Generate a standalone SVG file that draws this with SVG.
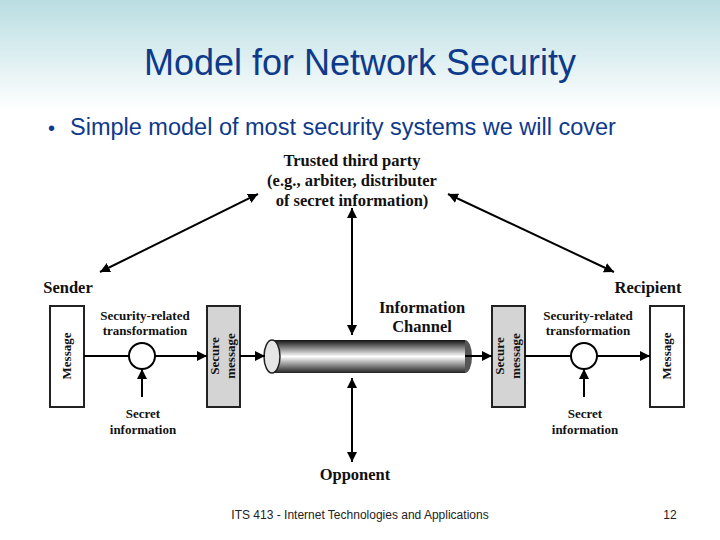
<svg xmlns="http://www.w3.org/2000/svg" width="720" height="540" viewBox="0 0 720 540">
<defs>
<linearGradient id="bg" x1="0" y1="0" x2="0" y2="1"><stop offset="0" stop-color="#b9dde2"/><stop offset="1" stop-color="#ffffff"/></linearGradient>
<linearGradient id="cyl" x1="0" y1="0" x2="0" y2="1"><stop offset="0" stop-color="#111"/><stop offset="0.5" stop-color="#fff"/><stop offset="1" stop-color="#222"/></linearGradient>
<marker id="ah" viewBox="0 0 10 10" refX="10" refY="5" markerWidth="10" markerHeight="10" markerUnits="userSpaceOnUse" orient="auto-start-reverse"><path d="M0,0L10,5L0,10z" fill="#000"/></marker>
<style>
.t{font-family:"Liberation Serif",serif;font-weight:bold;font-size:16.5px;fill:#111;text-anchor:middle}
.s{font-family:"Liberation Serif",serif;font-weight:bold;font-size:13px;fill:#111;text-anchor:middle}
.box{stroke:#222;stroke-width:2}
.ln{stroke:#000;stroke-width:2;fill:none}
</style>
</defs>
<rect x="0" y="0" width="720" height="110" fill="url(#bg)"/>
<text x="360" y="75" font-family="Liberation Sans, sans-serif" font-size="36" fill="#0d3a8a" text-anchor="middle">Model for Network Security</text>
<text x="70" y="135" font-family="Liberation Sans, sans-serif" font-size="23.5" fill="#0d3a8a">Simple model of most security systems we will cover</text>
<text x="48" y="135" font-family="Liberation Sans, sans-serif" font-size="20" fill="#0d3a8a">•</text>
<g id="ttp"><text class="t" x="352" y="166">Trusted third party</text><text class="t" x="352" y="186">(e.g., arbiter, distributer</text><text class="t" x="352" y="206">of secret information)</text></g>
<g id="sender"><text class="t" x="68" y="293">Sender</text></g>
<g id="recipient"><text class="t" x="648" y="293">Recipient</text></g>
<g id="channel-label"><text class="t" x="422" y="313">Information</text><text class="t" x="422" y="332">Channel</text></g>
<g id="opponent"><text class="t" x="355" y="480">Opponent</text></g>
<g id="msgL"><rect class="box" x="50" y="306" width="34" height="101" fill="#fff"/><text class="s" transform="translate(71,356) rotate(-90)">Message</text></g>
<g id="secL"><rect class="box" x="207" y="306" width="33" height="101" fill="#d4d4d4"/><text class="s" transform="translate(219,356) rotate(-90)">Secure</text><text class="s" transform="translate(235,356) rotate(-90)">message</text></g>
<g id="trL"><circle cx="142" cy="356" r="13" fill="#fff" stroke="#000" stroke-width="2"/><text class="s" x="145" y="320">Security-related</text><text class="s" x="145" y="335">transformation</text><text class="s" x="143" y="418">Secret</text><text class="s" x="143" y="434">information</text></g>
<g id="cylinder"><rect x="272" y="340" width="193" height="33" fill="url(#cyl)"/><path d="M465,340a7,16.5 0 0 1 0,33" fill="#555"/><ellipse cx="272" cy="356.5" rx="8" ry="16.5" fill="#e6e6e6" stroke="#222" stroke-width="1.5"/></g>
<g id="secR"><rect class="box" x="492" y="306" width="33" height="101" fill="#d4d4d4"/><text class="s" transform="translate(504,356) rotate(-90)">Secure</text><text class="s" transform="translate(520,356) rotate(-90)">message</text></g>
<g id="trR"><circle cx="584" cy="356" r="13" fill="#fff" stroke="#000" stroke-width="2"/><text class="s" x="588" y="320">Security-related</text><text class="s" x="588" y="335">transformation</text><text class="s" x="585" y="418">Secret</text><text class="s" x="585" y="434">information</text></g>
<g id="msgR"><rect class="box" x="650" y="306" width="34" height="101" fill="#fff"/><text class="s" transform="translate(671,356) rotate(-90)">Message</text></g>
<g id="connectors">
<line class="ln" x1="84" y1="356" x2="129" y2="356"/>
<line class="ln" x1="155" y1="356" x2="207" y2="356" marker-end="url(#ah)"/>
<line class="ln" x1="240" y1="356" x2="265" y2="356" marker-end="url(#ah)"/>
<line class="ln" x1="465" y1="356" x2="492" y2="356" marker-end="url(#ah)"/>
<line class="ln" x1="525" y1="356" x2="571" y2="356"/>
<line class="ln" x1="597" y1="356" x2="650" y2="356" marker-end="url(#ah)"/>
<line class="ln" x1="142" y1="397" x2="142" y2="369" marker-end="url(#ah)"/>
<line class="ln" x1="584" y1="397" x2="584" y2="369" marker-end="url(#ah)"/>
<line class="ln" x1="352" y1="208" x2="352" y2="335" marker-start="url(#ah)" marker-end="url(#ah)"/>
<line class="ln" x1="352" y1="378" x2="352" y2="462" marker-start="url(#ah)" marker-end="url(#ah)"/>
<line class="ln" x1="100" y1="272" x2="258" y2="194" marker-start="url(#ah)" marker-end="url(#ah)"/>
<line class="ln" x1="448" y1="194" x2="614" y2="272" marker-start="url(#ah)" marker-end="url(#ah)"/>
</g>
<text x="360" y="519" font-family="Liberation Sans, sans-serif" font-size="12" fill="#222" text-anchor="middle">ITS 413 - Internet Technologies and Applications</text>
<text x="670" y="519" font-family="Liberation Sans, sans-serif" font-size="12" fill="#222" text-anchor="middle">12</text>
</svg>
